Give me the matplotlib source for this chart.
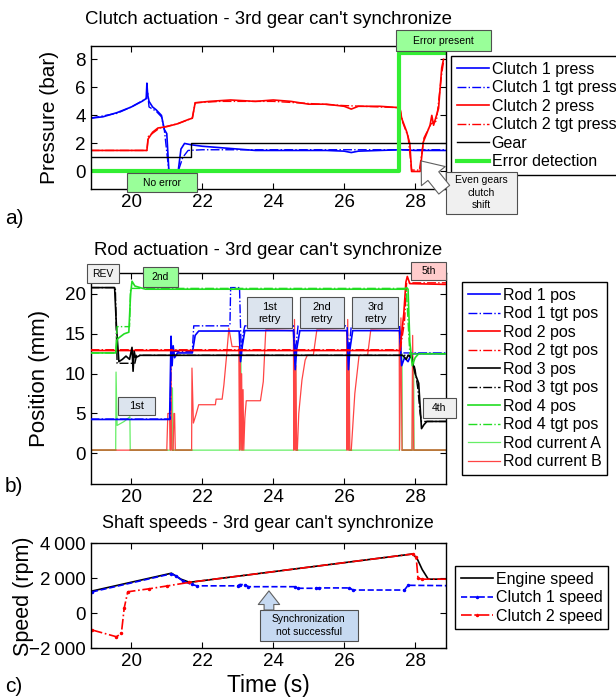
import numpy as np
import matplotlib
matplotlib.use('Agg')
import matplotlib.pyplot as plt
from matplotlib.patches import Rectangle

plt.rcParams['font.family'] = ['Liberation Sans', 'DejaVu Sans']
plt.rcParams['axes.linewidth'] = 1.0

# ---- a) clutch actuation ----
c1_t = [18.85, 19.2, 19.6, 20.0, 20.3, 20.42, 20.44, 20.46, 20.5, 20.6, 20.7, 20.85, 20.93,
        21.0, 21.06, 21.32, 21.4, 21.5, 21.7, 22.0, 22.5, 23.0, 23.5, 24.5, 25.5, 26.0, 26.2,
        26.4, 27.0, 27.6, 28.0, 28.5, 28.87]
c1_v = [3.8, 3.9, 4.2, 4.6, 5.0, 5.2, 6.3, 5.5, 5.0, 4.6, 4.4, 4.0, 3.0,
        2.7, 0.0, 0.0, 1.6, 2.0, 1.9, 1.8, 1.7, 1.6, 1.5, 1.5, 1.5, 1.45, 1.35,
        1.45, 1.5, 1.55, 1.5, 1.5, 1.5]
c1tgt_t = [18.85, 19.6, 20.0, 20.42, 20.46, 20.5, 20.7, 20.85, 20.93, 21.06, 21.32, 21.45,
           21.6, 22.0, 24.0, 26.0, 28.87]
c1tgt_v = [3.8, 4.15, 4.6, 5.2, 5.6, 4.6, 4.3, 3.9, 3.0, 0.0, 0.0, 1.0,
           1.5, 1.55, 1.55, 1.55, 1.55]
c2_t = [18.85, 20.44, 20.47, 20.6, 20.75, 21.0, 21.3, 21.6, 21.72, 21.8, 22.2, 22.8, 23.5,
        24.0, 24.5, 25.0, 25.5, 26.0, 26.2, 26.4, 27.0, 27.57, 27.62, 27.76, 27.85, 27.9,
        28.14, 28.23, 28.42, 28.47, 28.52, 28.66, 28.75, 28.8]
c2_v = [1.5, 1.5, 2.3, 2.8, 3.1, 3.2, 3.4, 3.7, 3.8, 4.9, 5.0, 5.1, 5.0,
        5.1, 5.0, 4.8, 4.8, 4.65, 4.45, 4.65, 4.65, 4.55, 3.8, 2.85, 2.0, 0.0,
        0.0, 2.1, 3.3, 4.0, 3.3, 4.5, 7.4, 8.0]
c2tgt_t = [18.85, 20.44, 20.48, 20.8, 21.3, 21.72, 21.8, 22.5, 24.0, 26.0, 27.57, 27.65,
           27.8, 27.9, 28.12, 28.25, 28.45, 28.6, 28.75, 28.8]
c2tgt_v = [1.5, 1.5, 2.5, 3.1, 3.4, 3.8, 4.9, 5.0, 5.0, 4.7, 4.55, 3.5,
           2.5, 0.1, 0.1, 2.4, 3.4, 3.6, 7.0, 7.8]
gear_t = [18.85, 21.67, 21.67, 28.87]
gear_v = [1, 1, 2, 2]
err_t = [18.85, 27.55, 27.55, 28.87]
err_v = [0, 0, 8.43, 8.43]

# ---- b) rod actuation ----
r1_t = [18.85, 21.08, 21.12, 21.15, 21.18, 21.22, 21.3, 21.72, 21.8, 21.9, 23.04, 23.08, 23.13,
        23.2, 24.57, 24.62, 24.66, 24.75, 26.08, 26.12, 26.16, 26.24, 27.56, 27.62, 27.7, 27.8,
        27.9, 28.0, 28.87]
r1_v = [4.25, 4.25, 14.7, 11.0, 13.5, 12.0, 12.6, 12.6, 14.8, 15.35, 15.35, 11.5, 13.5,
        15.4, 15.4, 10.5, 13.0, 15.4, 15.4, 10.5, 13.0, 15.4, 15.4, 11.0, 12.0, 11.5,
        12.5, 12.5, 12.5]
r1tgt_t = [18.85, 21.1, 21.12, 21.72, 21.76, 22.78, 22.8, 23.05, 23.1, 23.15, 23.2, 24.57,
           24.62, 24.7, 26.08, 26.13, 26.2, 27.56, 27.6, 28.87]
r1tgt_v = [4.3, 4.3, 12.8, 12.8, 16.0, 16.0, 20.8, 20.8, 12.3, 15.0, 16.0, 16.0,
           12.5, 16.0, 16.0, 12.5, 16.0, 16.0, 12.6, 12.6]
r2_t = [18.85, 27.57, 27.62, 27.68, 27.74, 27.78, 27.85, 28.87]
r2_v = [12.9, 12.9, 15.0, 17.5, 21.5, 22.2, 21.3, 21.2]
r2tgt_t = [18.85, 27.58, 27.7, 27.76, 28.87]
r2tgt_v = [13.0, 13.0, 16.5, 21.4, 21.4]
r3_t = [18.85, 19.53, 19.58, 19.65, 19.75, 19.85, 19.95, 20.02, 20.05, 20.08, 20.12, 20.25,
        27.65, 27.75, 27.8, 27.9, 28.0, 28.1, 28.14, 28.18, 28.25, 28.33, 28.87]
r3_v = [20.8, 20.8, 16.0, 11.5, 11.8, 12.2, 11.8, 13.3, 10.3, 12.8, 12.0, 12.3,
        12.3, 11.8, 12.3, 12.0, 10.0, 8.8, 5.9, 3.1, 3.6, 4.0, 4.0]
r3tgt_t = [18.85, 19.55, 19.6, 20.1, 20.15, 27.9, 28.0, 28.08, 28.14, 28.18, 28.87]
r3tgt_v = [20.8, 20.8, 11.3, 11.3, 12.3, 12.3, 10.5, 8.0, 5.0, 4.0, 4.0]
r4_t = [18.85, 19.56, 19.6, 19.65, 19.8, 19.93, 19.98, 20.02, 20.1, 20.4, 27.7, 27.76, 27.8,
        27.85, 27.92, 28.0, 28.1, 28.87]
r4_v = [12.6, 12.6, 14.3, 14.5, 15.0, 15.2, 20.0, 21.6, 21.0, 20.6, 20.6, 20.8, 20.6,
        14.0, 11.0, 12.0, 12.5, 12.5]
r4tgt_t = [18.85, 19.56, 19.6, 19.95, 19.98, 27.75, 27.85, 28.87]
r4tgt_v = [12.6, 12.6, 15.9, 15.9, 20.7, 20.7, 12.5, 12.5]
ia_t = [18.85, 19.56, 19.57, 19.6, 19.8, 19.96, 19.97, 21.12, 21.13, 21.16, 21.17, 23.05,
        23.06, 23.09, 23.1, 24.58, 24.59, 24.63, 24.64, 26.08, 26.09, 26.13, 26.14, 27.56,
        27.57, 27.63, 27.64, 27.92, 27.93, 27.96, 27.97, 28.87]
ia_v = [0.4, 0.4, 10.2, 3.5, 4.0, 4.6, 0.4, 0.4, 8.2, 8.2, 0.4, 0.4,
        13.0, 13.0, 0.4, 0.4, 12.5, 12.5, 0.4, 0.4, 12.5, 12.5, 0.4, 0.4,
        12.5, 12.5, 0.4, 0.4, 11.0, 11.0, 0.4, 0.4]
ib_t = [18.85, 21.0, 21.03, 21.08, 21.1, 21.12, 21.14, 21.18, 21.2, 21.22, 21.24,
        21.7, 21.71, 21.75, 21.82, 21.9, 22.37, 22.39, 22.56, 22.61, 22.68, 22.75, 22.84,
        23.03, 23.05, 23.07, 23.09, 23.11, 23.13, 23.15, 23.17, 23.2, 23.24, 23.64, 23.72,
        23.79, 24.57, 24.58, 24.6, 24.62, 24.64, 24.66, 24.68, 24.72, 24.81, 24.9, 24.96,
        25.13, 25.23, 26.07, 26.08, 26.1, 26.12, 26.14, 26.16, 26.2, 26.3, 26.42, 26.66,
        26.75, 27.55, 27.56, 27.6, 27.63, 27.66, 27.91, 27.93, 27.96, 28.87]
ib_v = [0.4, 0.4, 5.0, 5.0, 0.4, 12.0, 0.4, 0.4, 5.0, 5.0, 0.4,
        0.4, 10.7, 3.8, 4.8, 6.1, 6.1, 6.8, 6.8, 8.6, 12.0, 15.7, 13.4,
        13.4, 0.4, 13.0, 0.4, 10.0, 0.4, 8.0, 0.4, 4.4, 6.6, 6.6, 9.0,
        15.5, 15.4, 0.4, 16.8, 0.4, 11.0, 0.4, 0.4, 5.0, 9.2, 11.7, 12.3,
        12.3, 15.5, 15.4, 0.4, 16.8, 0.4, 12.0, 0.4, 0.4, 7.5, 12.3, 12.3,
        15.5, 15.4, 0.4, 17.0, 0.4, 0.4, 0.4, 14.8, 0.4, 0.4]

# ---- c) shaft speeds ----
eng_t = [18.89, 21.13, 21.4, 21.64, 27.93, 28.05, 28.2, 28.37, 28.9]
eng_v = [1270, 2290, 1950, 1770, 3390, 3150, 2500, 1950, 1950]
cl1_t = [18.89, 21.13, 21.25, 21.45, 21.7, 21.85, 23.0, 23.05, 23.2, 23.3, 24.6, 24.7, 25.2,
         25.3, 26.15, 26.25, 27.7, 27.8, 28.9]
cl1_v = [1220, 2260, 2150, 1850, 1650, 1570, 1570, 1640, 1640, 1520, 1520, 1430, 1430,
         1450, 1450, 1330, 1330, 1600, 1580]
cl2_t = [18.89, 19.58, 19.72, 19.8, 19.9, 20.5, 21.0, 21.64, 27.93, 28.03, 28.08, 28.2, 28.9]
cl2_v = [-950, -1340, -1150, 300, 1230, 1400, 1560, 1770, 3390, 3200, 2000, 1950, 1950]

XTICKS = [20, 22, 24, 26, 28]
W, H = 616, 697

fig = plt.figure(figsize=(W / 100, H / 100), dpi=100)


def px_axes(l, t, r, b):
    return fig.add_axes([l / W, 1 - b / H, (r - l) / W, (b - t) / H])


def style(ax, ylim, yticks):
    ax.set_xlim(18.85, 28.87)
    ax.set_ylim(*ylim)
    ax.set_xticks(XTICKS)
    ax.set_yticks(yticks)
    ax.tick_params(direction='in', top=True, right=True, length=4, labelsize=13.5, pad=3.5)


def legend(ax, x, y):
    leg = ax.legend(loc='upper left', bbox_to_anchor=(x / W, 1 - y / H),
                    bbox_transform=fig.transFigure, fontsize=11.5, fancybox=False,
                    edgecolor='black', framealpha=1, borderpad=0.35, handlelength=2.0,
                    handletextpad=0.2, labelspacing=0.22, borderaxespad=0)
    leg.get_frame().set_linewidth(1.0)


def box(ax, t0, t1, v0, v1, text, fc, fs=7.5):
    ax.add_patch(Rectangle((t0, v0), t1 - t0, v1 - v0, fc=fc, ec='#505050', lw=0.8,
                           clip_on=False, zorder=10))
    ax.text((t0 + t1) / 2, (v0 + v1) / 2, text, ha='center', va='center', fontsize=fs,
            zorder=11, clip_on=False, linespacing=1.3)


def hollow_arrow(ax, tail, tip, fc, scale):
    ax.annotate('', xy=tip, xytext=tail, annotation_clip=False, zorder=12,
                arrowprops=dict(arrowstyle='simple,head_length=0.7,head_width=1.1,tail_width=0.5',
                                mutation_scale=scale, fc=fc, ec='#606060', lw=0.8,
                                shrinkA=0, shrinkB=0))


# a) clutch actuation
ax = px_axes(90.5, 46, 446, 189)
ax.plot(c1_t, c1_v, color='b', lw=1.2, label='Clutch 1 press')
ax.plot(c1tgt_t, c1tgt_v, color='b', lw=1.0, ls='-.', label='Clutch 1 tgt press')
ax.plot(c2_t, c2_v, color='r', lw=1.2, label='Clutch 2 press')
ax.plot(c2tgt_t, c2tgt_v, color='r', lw=1.0, ls='-.', label='Clutch 2 tgt press')
ax.plot(gear_t, gear_v, color='k', lw=1.0, label='Gear')
ax.plot(err_t, err_v, color='#33ee33', lw=3, label='Error detection')
style(ax, (-1.25, 8.95), [0, 2, 4, 6, 8])
ax.set_title("Clutch actuation - 3rd gear can't synchronize", fontsize=13.4, pad=16)
ax.set_ylabel('Pressure (bar)', fontsize=15)
ax.yaxis.set_label_coords(-0.09, 0.5)
legend(ax, 451, 56)
box(ax, 19.89, 21.85, -1.49, -0.11, 'No error', '#99ff99')
box(ax, 27.45, 30.15, 8.59, 10.08, 'Error present', '#99ff99')
box(ax, 28.86, 30.86, -3.0, -0.02, 'Even gears\nclutch\nshift', '#f0f0f0')
hollow_arrow(ax, (28.82, -1.3), (28.17, 0.75), 'white', 20)

# b) rod actuation
ax = px_axes(90.5, 272.7, 446, 484)
ax.plot(r1_t, r1_v, color='b', lw=1.2, label='Rod 1 pos', zorder=3)
ax.plot(r1tgt_t, r1tgt_v, color='b', lw=1.0, ls='-.', label='Rod 1 tgt pos', zorder=3)
ax.plot(r2_t, r2_v, color='r', lw=1.2, label='Rod 2 pos', zorder=3)
ax.plot(r2tgt_t, r2tgt_v, color='r', lw=1.0, ls='-.', label='Rod 2 tgt pos', zorder=3)
ax.plot(r3_t, r3_v, color='k', lw=1.2, label='Rod 3 pos', zorder=3)
ax.plot(r3tgt_t, r3tgt_v, color='k', lw=1.0, ls='-.', label='Rod 3 tgt pos', zorder=3)
ax.plot(r4_t, r4_v, color='#22dd22', lw=1.2, label='Rod 4 pos', zorder=3)
ax.plot(r4tgt_t, r4tgt_v, color='#22dd22', lw=1.0, ls='-.', label='Rod 4 tgt pos', zorder=3)
ax.plot(ia_t, ia_v, color='#66ee66', lw=0.9, label='Rod current A', zorder=2)
ax.plot(ib_t, ib_v, color='#ff4444', lw=0.9, label='Rod current B', zorder=2)
# where both currents sit on their baseline the overlap shows brownish
tt = np.linspace(18.85, 28.87, 3000)
both = (np.interp(tt, ia_t, ia_v) < 0.5) & (np.interp(tt, ib_t, ib_v) < 0.5)
ax.plot(tt, np.where(both, 0.4, np.nan), color='#b8793a', lw=1.2, zorder=2.5)
style(ax, (-3.85, 22.67), [0, 5, 10, 15, 20])
ax.set_title("Rod actuation - 3rd gear can't synchronize", fontsize=13.4, pad=13)
ax.set_ylabel('Position (mm)', fontsize=16)
ax.yaxis.set_label_coords(-0.114, 0.5)
legend(ax, 462, 282)
box(ax, 18.755, 19.66, 21.34, 23.73, 'REV', '#f0f0f0')
box(ax, 20.33, 21.32, 20.92, 23.43, '2nd', '#99ff99')
box(ax, 27.89, 28.86, 21.76, 24.06, '5th', '#ffcccc')
box(ax, 23.26, 24.53, 15.69, 19.59, '1st\nretry', '#dce4ee', 8)
box(ax, 24.75, 25.99, 15.69, 19.59, '2nd\nretry', '#dce4ee', 8)
box(ax, 26.23, 27.52, 15.69, 19.59, '3rd\nretry', '#dce4ee', 8)
box(ax, 19.63, 20.68, 4.81, 7.11, '1st', '#dce4ee', 8)
box(ax, 28.22, 29.14, 4.47, 6.9, '4th', '#f0f0f0')

# c) shaft speeds
ax = px_axes(90.5, 543.3, 446, 648.3)
ax.plot(eng_t, eng_v, color='k', lw=1.2, label='Engine speed')
ax.plot(cl1_t, cl1_v, color='b', lw=1.2, ls='--', marker='.', ms=3, label='Clutch 1 speed')
ax.plot(cl2_t, cl2_v, color='r', lw=1.2, ls='-.', marker='.', ms=3, label='Clutch 2 speed')
style(ax, (-2000, 4000), [-2000, 0, 2000, 4000])
ax.set_yticklabels(['\u22122\u2009000', '0', '2\u2009000', '4\u2009000'])
ax.set_title("Shaft speeds - 3rd gear can't synchronize", fontsize=13, pad=11)
ax.set_ylabel('Speed (rpm)', fontsize=15.5)
ax.yaxis.set_label_coords(-0.16, 0.5)
ax.set_xlabel('Time (s)', fontsize=16.5, labelpad=3)
legend(ax, 455, 566)
box(ax, 23.62, 26.39, -1583, 189, 'Synchronization\nnot successful', '#c6d9f1')
hollow_arrow(ax, (23.88, 190), (23.88, 1280), '#c6d9f1', 14)

fig.text(5 / W, 1 - 219 / H, 'a)', fontsize=15, va='center')
fig.text(5 / W, 1 - 486 / H, 'b)', fontsize=15, va='center')
fig.text(5 / W, 1 - 686 / H, 'c)', fontsize=15, va='center')

fig.savefig('out.png', dpi=100)
